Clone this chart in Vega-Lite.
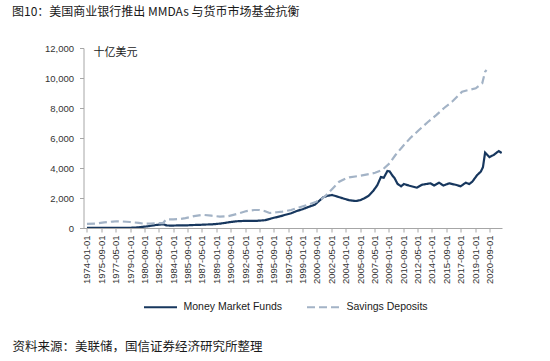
{
  "$schema": "https://vega.github.io/schema/vega-lite/v6.json",
  "width": 418.5,
  "height": 180,
  "autosize": {"type": "none"},
  "padding": {"left": 83.5, "top": 48, "right": 48, "bottom": 133},
  "background": "white",
  "config": {
    "view": {"stroke": null},
    "font": "Liberation Sans",
    "axis": {"labelOverlap": false, "grid": false}
  },
  "title": {
    "text": "图10：美国商业银行推出 MMDAs 与货币市场基金抗衡",
    "anchor": "start",
    "frame": "group",
    "dx": -71.5,
    "font": "Noto Sans CJK SC",
    "fontSize": 12,
    "fontWeight": "normal",
    "color": "#1a1a1a",
    "offset": 24
  },
  "encoding": {
    "x": {
      "field": "date",
      "type": "temporal",
      "scale": {
        "type": "utc",
        "domain": [
          {"year": 1973, "month": 8, "date": 7, "utc": true},
          {"year": 2022, "month": 2, "date": 15, "utc": true}
        ]
      },
      "axis": {
        "title": "资料来源：美联储，国信证券经济研究所整理",
        "titleX": -71.5,
        "titleY": 118,
        "titleAlign": "left",
        "titleAnchor": null,
        "titleAngle": 0,
        "titleBaseline": "middle",
        "titleFont": "Noto Sans CJK SC",
        "titleFontSize": 12.5,
        "titleFontWeight": "normal",
        "titleColor": "#1a1a1a",
        "format": "%Y-%m-%d",
        "labelAngle": 270,
        "labelAlign": "right",
        "labelBaseline": "middle",
        "labelFontSize": 9.5,
        "labelColor": "#333333",
        "labelPadding": 3,
        "labelOverlap": false,
        "labelFlush": false,
        "grid": false,
        "domainColor": "#a6a6a6",
        "tickColor": "#a6a6a6",
        "tickSize": 4,
        "values": [
          {"year": 1974, "month": 1, "date": 1, "utc": true},
          {"year": 1975, "month": 9, "date": 1, "utc": true},
          {"year": 1977, "month": 5, "date": 1, "utc": true},
          {"year": 1979, "month": 1, "date": 1, "utc": true},
          {"year": 1980, "month": 9, "date": 1, "utc": true},
          {"year": 1982, "month": 5, "date": 1, "utc": true},
          {"year": 1984, "month": 1, "date": 1, "utc": true},
          {"year": 1985, "month": 9, "date": 1, "utc": true},
          {"year": 1987, "month": 5, "date": 1, "utc": true},
          {"year": 1989, "month": 1, "date": 1, "utc": true},
          {"year": 1990, "month": 9, "date": 1, "utc": true},
          {"year": 1992, "month": 5, "date": 1, "utc": true},
          {"year": 1994, "month": 1, "date": 1, "utc": true},
          {"year": 1995, "month": 9, "date": 1, "utc": true},
          {"year": 1997, "month": 5, "date": 1, "utc": true},
          {"year": 1999, "month": 1, "date": 1, "utc": true},
          {"year": 2000, "month": 9, "date": 1, "utc": true},
          {"year": 2002, "month": 5, "date": 1, "utc": true},
          {"year": 2004, "month": 1, "date": 1, "utc": true},
          {"year": 2005, "month": 9, "date": 1, "utc": true},
          {"year": 2007, "month": 5, "date": 1, "utc": true},
          {"year": 2009, "month": 1, "date": 1, "utc": true},
          {"year": 2010, "month": 9, "date": 1, "utc": true},
          {"year": 2012, "month": 5, "date": 1, "utc": true},
          {"year": 2014, "month": 1, "date": 1, "utc": true},
          {"year": 2015, "month": 9, "date": 1, "utc": true},
          {"year": 2017, "month": 5, "date": 1, "utc": true},
          {"year": 2019, "month": 1, "date": 1, "utc": true},
          {"year": 2020, "month": 9, "date": 1, "utc": true}
        ]
      }
    },
    "y": {
      "field": "value",
      "type": "quantitative",
      "scale": {"domain": [0, 12000], "nice": false},
      "axis": {
        "title": null,
        "values": [0, 2000, 4000, 6000, 8000, 10000, 12000],
        "format": ",.0f",
        "labelFontSize": 9.5,
        "labelColor": "#333333",
        "labelPadding": 6,
        "labelOverlap": false,
        "grid": false,
        "domainColor": "#a6a6a6",
        "tickColor": "#a6a6a6",
        "tickSize": 4
      }
    }
  },
  "layer": [
    {
      "data": {
        "values": [
          {"date": "1974-01-01", "value": 2, "series": "Money Market Funds"},
          {"date": "1975-01-01", "value": 4, "series": "Money Market Funds"},
          {"date": "1977-01-01", "value": 4, "series": "Money Market Funds"},
          {"date": "1978-07-01", "value": 8, "series": "Money Market Funds"},
          {"date": "1979-07-01", "value": 25, "series": "Money Market Funds"},
          {"date": "1980-01-01", "value": 45, "series": "Money Market Funds"},
          {"date": "1980-07-01", "value": 80, "series": "Money Market Funds"},
          {"date": "1981-01-01", "value": 110, "series": "Money Market Funds"},
          {"date": "1981-07-01", "value": 160, "series": "Money Market Funds"},
          {"date": "1982-01-01", "value": 200, "series": "Money Market Funds"},
          {"date": "1982-07-01", "value": 230, "series": "Money Market Funds"},
          {"date": "1982-11-01", "value": 250, "series": "Money Market Funds"},
          {"date": "1983-04-01", "value": 170, "series": "Money Market Funds"},
          {"date": "1983-10-01", "value": 160, "series": "Money Market Funds"},
          {"date": "1984-06-01", "value": 170, "series": "Money Market Funds"},
          {"date": "1985-01-01", "value": 180, "series": "Money Market Funds"},
          {"date": "1985-09-01", "value": 180, "series": "Money Market Funds"},
          {"date": "1986-06-01", "value": 200, "series": "Money Market Funds"},
          {"date": "1987-02-01", "value": 210, "series": "Money Market Funds"},
          {"date": "1987-10-01", "value": 230, "series": "Money Market Funds"},
          {"date": "1988-06-01", "value": 240, "series": "Money Market Funds"},
          {"date": "1989-06-01", "value": 290, "series": "Money Market Funds"},
          {"date": "1990-01-01", "value": 340, "series": "Money Market Funds"},
          {"date": "1990-09-01", "value": 400, "series": "Money Market Funds"},
          {"date": "1991-06-01", "value": 450, "series": "Money Market Funds"},
          {"date": "1992-03-01", "value": 470, "series": "Money Market Funds"},
          {"date": "1992-09-01", "value": 480, "series": "Money Market Funds"},
          {"date": "1993-06-01", "value": 470, "series": "Money Market Funds"},
          {"date": "1994-01-01", "value": 490, "series": "Money Market Funds"},
          {"date": "1994-09-01", "value": 520, "series": "Money Market Funds"},
          {"date": "1995-03-01", "value": 600, "series": "Money Market Funds"},
          {"date": "1995-09-01", "value": 680, "series": "Money Market Funds"},
          {"date": "1996-06-01", "value": 780, "series": "Money Market Funds"},
          {"date": "1997-01-01", "value": 880, "series": "Money Market Funds"},
          {"date": "1997-09-01", "value": 980, "series": "Money Market Funds"},
          {"date": "1998-06-01", "value": 1150, "series": "Money Market Funds"},
          {"date": "1999-01-01", "value": 1250, "series": "Money Market Funds"},
          {"date": "1999-09-01", "value": 1400, "series": "Money Market Funds"},
          {"date": "2000-06-01", "value": 1550, "series": "Money Market Funds"},
          {"date": "2001-01-01", "value": 1850, "series": "Money Market Funds"},
          {"date": "2001-06-01", "value": 2050, "series": "Money Market Funds"},
          {"date": "2001-12-01", "value": 2150, "series": "Money Market Funds"},
          {"date": "2002-06-01", "value": 2200, "series": "Money Market Funds"},
          {"date": "2003-01-01", "value": 2100, "series": "Money Market Funds"},
          {"date": "2003-09-01", "value": 1980, "series": "Money Market Funds"},
          {"date": "2004-06-01", "value": 1850, "series": "Money Market Funds"},
          {"date": "2005-03-01", "value": 1800, "series": "Money Market Funds"},
          {"date": "2005-09-01", "value": 1850, "series": "Money Market Funds"},
          {"date": "2006-03-01", "value": 1980, "series": "Money Market Funds"},
          {"date": "2006-09-01", "value": 2150, "series": "Money Market Funds"},
          {"date": "2007-03-01", "value": 2450, "series": "Money Market Funds"},
          {"date": "2007-09-01", "value": 2850, "series": "Money Market Funds"},
          {"date": "2008-02-01", "value": 3400, "series": "Money Market Funds"},
          {"date": "2008-06-01", "value": 3350, "series": "Money Market Funds"},
          {"date": "2008-11-01", "value": 3800, "series": "Money Market Funds"},
          {"date": "2009-02-01", "value": 3780, "series": "Money Market Funds"},
          {"date": "2009-06-01", "value": 3500, "series": "Money Market Funds"},
          {"date": "2009-09-01", "value": 3330, "series": "Money Market Funds"},
          {"date": "2010-01-01", "value": 2950, "series": "Money Market Funds"},
          {"date": "2010-06-01", "value": 2780, "series": "Money Market Funds"},
          {"date": "2010-10-01", "value": 2930, "series": "Money Market Funds"},
          {"date": "2011-05-01", "value": 2830, "series": "Money Market Funds"},
          {"date": "2012-04-01", "value": 2690, "series": "Money Market Funds"},
          {"date": "2012-11-01", "value": 2880, "series": "Money Market Funds"},
          {"date": "2013-11-01", "value": 2980, "series": "Money Market Funds"},
          {"date": "2014-04-01", "value": 2830, "series": "Money Market Funds"},
          {"date": "2014-11-01", "value": 3020, "series": "Money Market Funds"},
          {"date": "2015-05-01", "value": 2830, "series": "Money Market Funds"},
          {"date": "2016-01-01", "value": 2980, "series": "Money Market Funds"},
          {"date": "2016-10-01", "value": 2880, "series": "Money Market Funds"},
          {"date": "2017-05-01", "value": 2780, "series": "Money Market Funds"},
          {"date": "2017-12-01", "value": 3020, "series": "Money Market Funds"},
          {"date": "2018-05-01", "value": 2930, "series": "Money Market Funds"},
          {"date": "2018-09-01", "value": 3080, "series": "Money Market Funds"},
          {"date": "2019-04-01", "value": 3530, "series": "Money Market Funds"},
          {"date": "2019-09-01", "value": 3760, "series": "Money Market Funds"},
          {"date": "2019-12-01", "value": 4050, "series": "Money Market Funds"},
          {"date": "2020-03-01", "value": 5020, "series": "Money Market Funds"},
          {"date": "2020-09-01", "value": 4730, "series": "Money Market Funds"},
          {"date": "2021-03-01", "value": 4870, "series": "Money Market Funds"},
          {"date": "2021-10-01", "value": 5130, "series": "Money Market Funds"},
          {"date": "2022-02-01", "value": 5000, "series": "Money Market Funds"},
          {"date": "1974-01-01", "value": 270, "series": "Savings Deposits"},
          {"date": "1975-01-01", "value": 300, "series": "Savings Deposits"},
          {"date": "1976-01-01", "value": 370, "series": "Savings Deposits"},
          {"date": "1977-01-01", "value": 430, "series": "Savings Deposits"},
          {"date": "1977-06-01", "value": 450, "series": "Savings Deposits"},
          {"date": "1978-01-01", "value": 440, "series": "Savings Deposits"},
          {"date": "1979-01-01", "value": 400, "series": "Savings Deposits"},
          {"date": "1980-01-01", "value": 340, "series": "Savings Deposits"},
          {"date": "1980-09-01", "value": 280, "series": "Savings Deposits"},
          {"date": "1981-06-01", "value": 300, "series": "Savings Deposits"},
          {"date": "1982-06-01", "value": 320, "series": "Savings Deposits"},
          {"date": "1982-11-01", "value": 330, "series": "Savings Deposits"},
          {"date": "1983-03-01", "value": 560, "series": "Savings Deposits"},
          {"date": "1984-01-01", "value": 580, "series": "Savings Deposits"},
          {"date": "1984-10-01", "value": 590, "series": "Savings Deposits"},
          {"date": "1985-06-01", "value": 660, "series": "Savings Deposits"},
          {"date": "1986-06-01", "value": 790, "series": "Savings Deposits"},
          {"date": "1987-06-01", "value": 880, "series": "Savings Deposits"},
          {"date": "1988-06-01", "value": 820, "series": "Savings Deposits"},
          {"date": "1989-06-01", "value": 760, "series": "Savings Deposits"},
          {"date": "1990-06-01", "value": 790, "series": "Savings Deposits"},
          {"date": "1991-06-01", "value": 940, "series": "Savings Deposits"},
          {"date": "1992-07-01", "value": 1130, "series": "Savings Deposits"},
          {"date": "1993-06-01", "value": 1200, "series": "Savings Deposits"},
          {"date": "1994-01-01", "value": 1200, "series": "Savings Deposits"},
          {"date": "1994-09-01", "value": 1120, "series": "Savings Deposits"},
          {"date": "1995-03-01", "value": 1000, "series": "Savings Deposits"},
          {"date": "1996-01-01", "value": 1050, "series": "Savings Deposits"},
          {"date": "1996-09-01", "value": 1090, "series": "Savings Deposits"},
          {"date": "1997-09-01", "value": 1200, "series": "Savings Deposits"},
          {"date": "1998-09-01", "value": 1380, "series": "Savings Deposits"},
          {"date": "1999-09-01", "value": 1560, "series": "Savings Deposits"},
          {"date": "2000-08-01", "value": 1750, "series": "Savings Deposits"},
          {"date": "2001-04-01", "value": 1950, "series": "Savings Deposits"},
          {"date": "2001-10-01", "value": 2200, "series": "Savings Deposits"},
          {"date": "2002-07-01", "value": 2640, "series": "Savings Deposits"},
          {"date": "2003-04-01", "value": 3090, "series": "Savings Deposits"},
          {"date": "2004-01-01", "value": 3300, "series": "Savings Deposits"},
          {"date": "2004-06-01", "value": 3380, "series": "Savings Deposits"},
          {"date": "2005-08-01", "value": 3470, "series": "Savings Deposits"},
          {"date": "2006-10-01", "value": 3600, "series": "Savings Deposits"},
          {"date": "2007-06-01", "value": 3680, "series": "Savings Deposits"},
          {"date": "2008-04-01", "value": 3870, "series": "Savings Deposits"},
          {"date": "2009-02-01", "value": 4310, "series": "Savings Deposits"},
          {"date": "2009-10-01", "value": 4850, "series": "Savings Deposits"},
          {"date": "2010-08-01", "value": 5420, "series": "Savings Deposits"},
          {"date": "2011-07-01", "value": 6000, "series": "Savings Deposits"},
          {"date": "2012-07-01", "value": 6530, "series": "Savings Deposits"},
          {"date": "2013-07-01", "value": 7050, "series": "Savings Deposits"},
          {"date": "2014-07-01", "value": 7530, "series": "Savings Deposits"},
          {"date": "2015-06-01", "value": 8000, "series": "Savings Deposits"},
          {"date": "2016-05-01", "value": 8420, "series": "Savings Deposits"},
          {"date": "2017-07-01", "value": 9090, "series": "Savings Deposits"},
          {"date": "2018-04-01", "value": 9200, "series": "Savings Deposits"},
          {"date": "2019-02-01", "value": 9310, "series": "Savings Deposits"},
          {"date": "2019-11-01", "value": 9650, "series": "Savings Deposits"},
          {"date": "2020-03-01", "value": 10420, "series": "Savings Deposits"},
          {"date": "2020-05-01", "value": 10530, "series": "Savings Deposits"}
        ]
      },
      "mark": {"type": "line", "strokeWidth": 2.2, "clip": true},
      "encoding": {
        "color": {
          "field": "series",
          "type": "nominal",
          "scale": {
            "domain": ["Money Market Funds", "Savings Deposits"],
            "range": ["#17375E", "#A3B3C6"]
          },
          "legend": {
            "title": null,
            "orient": "none",
            "direction": "horizontal",
            "legendX": 59,
            "legendY": 241,
            "padding": 0,
            "symbolType": "stroke",
            "symbolSize": 1089,
            "symbolStrokeWidth": 2.2,
            "labelFontSize": 10.5,
            "labelColor": "#1a1a1a",
            "labelOffset": 5,
            "columnPadding": 20
          }
        },
        "strokeDash": {
          "field": "series",
          "type": "nominal",
          "scale": {
            "domain": ["Money Market Funds", "Savings Deposits"],
            "range": [[1, 0], [8, 4]]
          },
          "legend": {
            "title": null,
            "orient": "none",
            "direction": "horizontal",
            "legendX": 59,
            "legendY": 241,
            "padding": 0,
            "symbolType": "stroke",
            "symbolSize": 1089,
            "symbolStrokeWidth": 2.2,
            "labelFontSize": 10.5,
            "labelColor": "#1a1a1a",
            "labelOffset": 5,
            "columnPadding": 20
          }
        }
      }
    },
    {
      "data": {"values": [{"date": "1974-10-01", "value": 11700, "label": "十亿美元"}]},
      "mark": {"type": "text", "align": "left", "baseline": "middle", "font": "Noto Sans CJK SC", "fontSize": 11, "fill": "#1a1a1a"},
      "encoding": {
        "text": {"field": "label"}
      }
    }
  ]
}
